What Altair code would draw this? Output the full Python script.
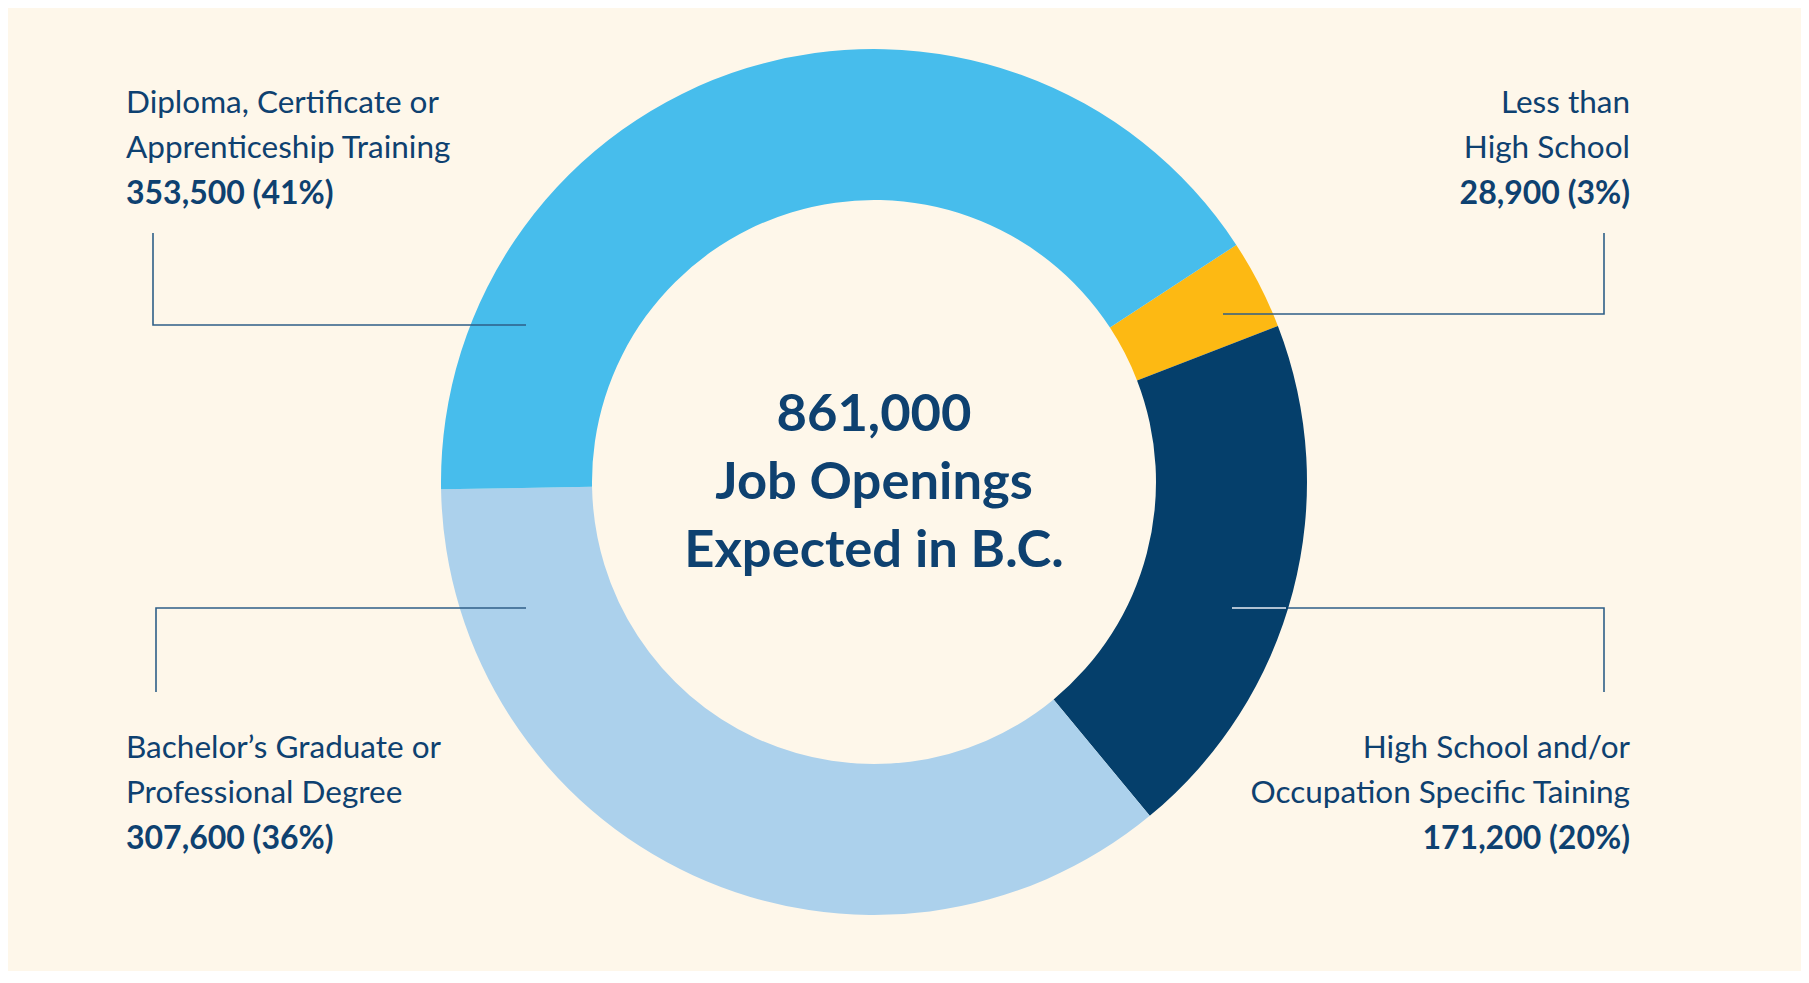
import altair as alt
import pandas as pd

# ---- data ----
categories = [
    "Less than High School",
    "High School and/or Occupation Specific Taining",
    "Bachelor's Graduate or Professional Degree",
    "Diploma, Certificate or Apprenticeship Training",
]
values = [28900, 171200, 307600, 353500]
pct_labels = ["3%", "20%", "36%", "41%"]
label_line1 = ["Less than", "High School and/or", "Bachelor\u2019s Graduate or", "Diploma, Certificate or"]
label_line2 = ["High School", "Occupation Specific Taining", "Professional Degree", "Apprenticeship Training"]
center_lines = ["861,000", "Job Openings", "Expected in B.C."]

# ---- styles ----
colors = ["#FDB913", "#053F6B", "#ACD1EC", "#47BDEC"]
BG = "#FEF7EA"
TXT = "#0E4170"
LINE = "#2F5F88"
FONT = "Lato"

VW, VH = 1732, 948
INNER, OUTER = 282, 433
START = 0.9913  # radians, start angle of first slice

# layout (chart pixel coordinates)
label_anchor = [  # x, y of first line, align
    (1622, 96, "right"),
    (1622, 741, "right"),
    (118, 96, "left"),
    (118, 741, "left"),
]
label_anchor = [label_anchor[0], label_anchor[1], label_anchor[3], label_anchor[2]]
LINE_GAP = 45

arc_df = pd.DataFrame({"cat": categories, "value": values, "order": list(range(len(values)))})

arc = alt.Chart(arc_df).mark_arc(innerRadius=INNER, outerRadius=OUTER, stroke=None).encode(
    theta=alt.Theta("value:Q", stack=True, scale=alt.Scale(range=[START, START + 6.283185307])),
    order=alt.Order("order:Q"),
    color=alt.Color("cat:N", scale=alt.Scale(domain=categories, range=colors), legend=None),
)

rows = []
for i, c in enumerate(categories):
    x, y, al = label_anchor[i]
    rows.append({"x": x, "y": y, "text": label_line1[i], "al": al, "w": "n"})
    rows.append({"x": x, "y": y + LINE_GAP, "text": label_line2[i], "al": al, "w": "n"})
    rows.append({"x": x, "y": y + 2 * LINE_GAP,
                 "text": f"{values[i]:,} ({pct_labels[i]})", "al": al, "w": "b"})
lab_df = pd.DataFrame(rows)

xs = alt.Scale(domain=[0, VW], nice=False, zero=False)
ys = alt.Scale(domain=[0, VH], nice=False, zero=False, reverse=True)

def X():
    return alt.X("x:Q", scale=xs, axis=None)

def Y():
    return alt.Y("y:Q", scale=ys, axis=None)

text_layers = []
for al in ["left", "right"]:
    for w in ["n", "b"]:
        text_layers.append(
            alt.Chart(lab_df).transform_filter(
                (alt.datum.al == al) & (alt.datum.w == w)
            ).mark_text(
                align=al, baseline="middle", font=FONT,
                fontSize=32 if w == "b" else 31.5,
                fontWeight="bold" if w == "b" else "normal", color=TXT,
            ).encode(x=X(), y=Y(), text="text:N")
        )

center_df = pd.DataFrame({"x": [VW / 2] * 3, "y": [407, 475, 543], "text": center_lines})
center = alt.Chart(center_df).mark_text(
    align="center", baseline="middle", font=FONT, fontSize=52.5, fontWeight="bold", color=TXT
).encode(x=X(), y=Y(), text="text:N")

leader_pts = pd.DataFrame({
    "g": ["a"] * 3 + ["b"] * 3 + ["c"] * 3 + ["d"] * 3,
    "o": [0, 1, 2] * 4,
    "x": [145, 145, 518, 1596, 1596, 1215, 148, 148, 518, 1596, 1596, 1280],
    "y": [225, 317, 317, 225, 306, 306, 684, 600, 600, 684, 600, 600],
})
leaders = alt.Chart(leader_pts).mark_line(color=LINE, strokeWidth=1.6).encode(
    x=X(), y=Y(), detail="g:N", order="o:Q"
)
light_df = pd.DataFrame({"g": ["e", "e"], "o": [0, 1], "x": [1224, 1278], "y": [600, 600]})
light = alt.Chart(light_df).mark_line(color="#E8EEF4", strokeWidth=1.6).encode(
    x=X(), y=Y(), detail="g:N", order="o:Q"
)

chart = alt.layer(arc, leaders, light, center, *text_layers).properties(
    width=VW, height=VH, background=BG,
    padding={"left": 0, "top": 0, "right": 61, "bottom": 15},
    autosize=alt.AutoSizeParams(type="none"),
).configure_view(stroke=None)

chart.save("out.html", embed_options={"renderer": "svg", "actions": False})
